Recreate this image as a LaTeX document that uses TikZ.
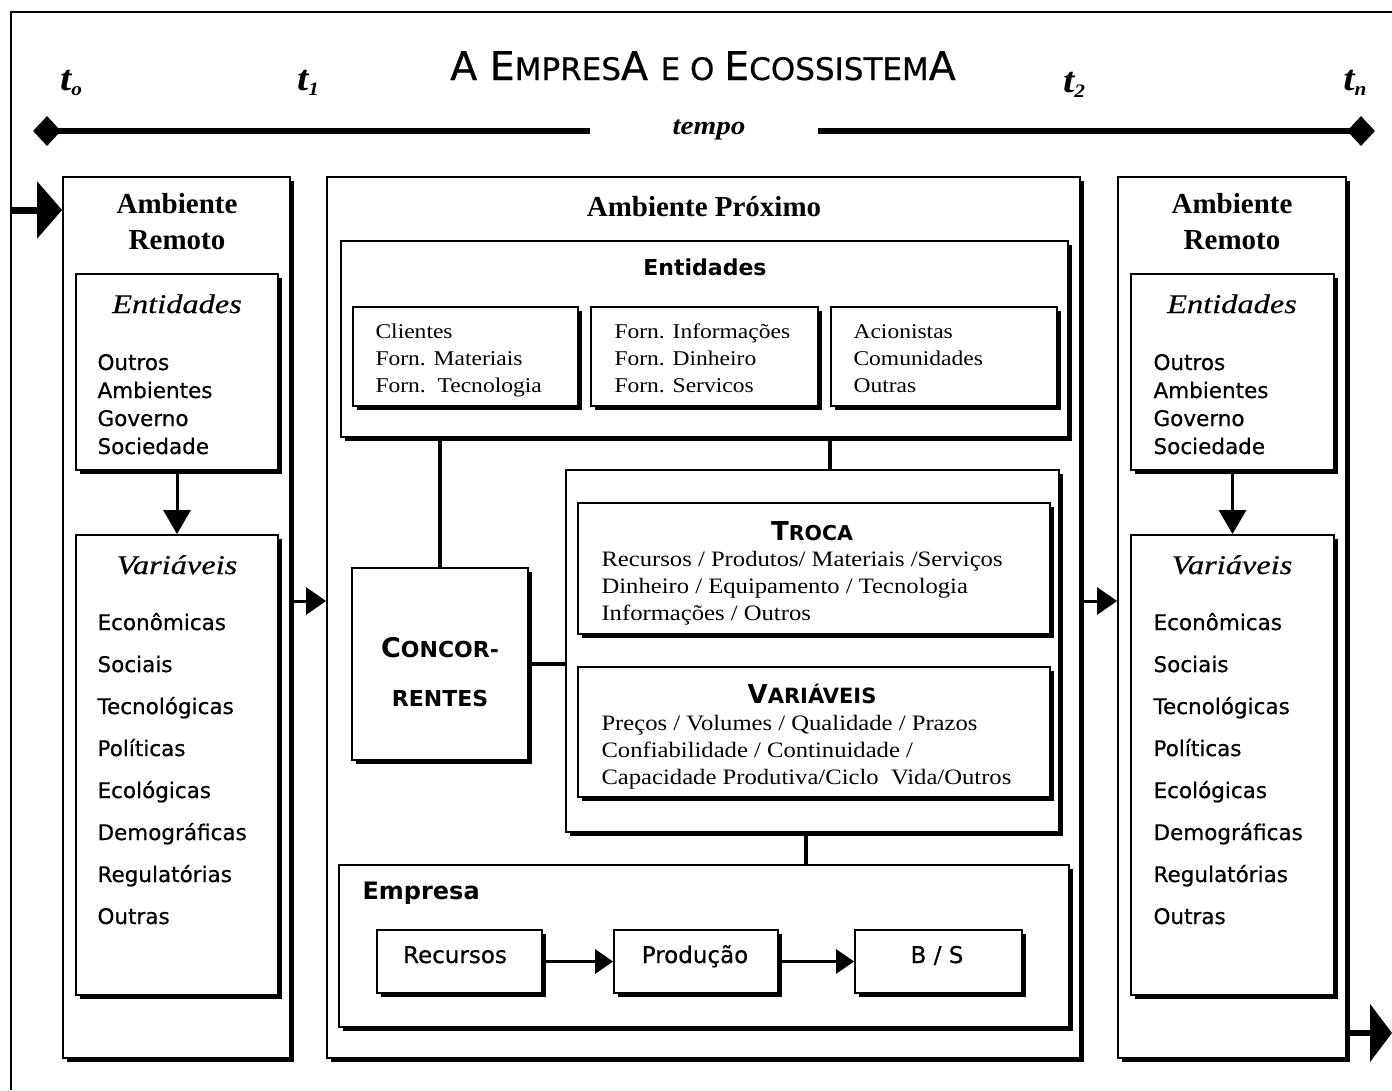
\documentclass[tikz,border=0pt]{standalone}
\usepackage{fontspec}
\setmainfont{Liberation Serif}
\newfontfamily\gsans{DejaVu Sans}
\newfontfamily\gsansr[FakeBold=0.6]{DejaVu Sans}
\newfontfamily\wserif[FakeStretch=1.12]{Liberation Serif}
\newfontfamily\hserif[FakeStretch=1.2,FakeBold=0.5]{Liberation Serif}
\usetikzlibrary{shadows,arrows.meta,fit,shapes.geometric}
\newcommand\fsz[1]{\fontsize{#1}{#1}\selectfont}
\begin{document}
\begin{tikzpicture}[x=1pt,y=-1pt,
  sbox/.style={draw, line width=1.8pt, fill=white, inner sep=0pt,
    drop shadow={shadow xshift=4pt, shadow yshift=-4pt, fill=black, opacity=1}},
  conn/.style={line width=3.2pt},
  sarrow/.style={line width=3pt, -{Triangle[length=20pt,width=27pt]}},
  bigarrow/.style={line width=7pt, -{Triangle[length=25pt,width=56pt]}},
  tlab/.style={anchor=base, font={\wserif\bfseries\itshape\fsz{36}}},
  rtitle/.style={anchor=base, font={\bfseries\fsz{29}}},
  ihead/.style={anchor=base, font={\hserif\itshape\fsz{27}}},
  slist/.style={anchor=base west, font={\gsansr\fsz{21.5}}},
  elist/.style={anchor=base west, font={\wserif\fsz{21}}},
  tlist/.style={anchor=base west, font={\wserif\fsz{22}}},
  dia/.style={diamond, fill=black, inner sep=0pt, minimum width=28pt, minimum height=30pt}
]
\fill[white] (0,0) rectangle (1392,1090);
\useasboundingbox (0,0) rectangle (1392,1090);
% outer frame
\draw[line width=2.5pt] (1392,12) -- (11,12) -- (11,1090);

% title and timeline
\node[anchor=base, font=\gsansr] (title) at (703,80) {\fsz{39.5}A E\fsz{31}MPRES\fsz{39.5}A \fsz{31}E O \fsz{39.5}E\fsz{31}COSSISTEM\fsz{39.5}A};
\node[tlab] (t0) at (71,90) {t\raisebox{-5pt}{\fsz{19}o}};
\node[tlab] (t1) at (308,90) {t\raisebox{-5pt}{\fsz{19}1}};
\node[tlab] (t2) at (1074,92) {t\raisebox{-5pt}{\fsz{19}2}};
\node[tlab] (tn) at (1355,90) {t\raisebox{-5pt}{\fsz{19}n}};
\node[dia] (dL) at (47,131) {};
\node[dia] (dR) at (1361,131) {};
\node[anchor=base, font={\wserif\bfseries\itshape\fsz{26}}] (tempo) at (709,134) {tempo};
\coordinate (tlA) at (590,131);
\coordinate (tlB) at (818,131);
\draw[line width=6.5pt] (dL.center) -- (tlA);
\draw[line width=6.5pt] (tlB) -- (dR.center);

% left column
\node[sbox, fit={(63,177) (290,1058)}] (remL) {};
\node[sbox, fit={(76,274) (278,470)}] (entL) {};
\node[sbox, fit={(76,535) (278,995)}] (varL) {};
% right column
\node[sbox, fit={(1118,177) (1346,1058)}] (remR) {};
\node[sbox, fit={(1131,274) (1334,470)}] (entR) {};
\node[sbox, fit={(1131,535) (1334,995)}] (varR) {};
% center
\node[sbox, fit={(327,177) (1080,1058)}] (prox) {};
\node[sbox, fit={(341,241) (1068,437)}] (entC) {};
\node[sbox, fit={(353,307) (578,406)}] (e1) {};
\node[sbox, fit={(591,307) (818,406)}] (e2) {};
\node[sbox, fit={(831,307) (1057,406)}] (e3) {};
\node[sbox, fit={(352,568) (528,760)}] (conc) {};
\node[sbox, fit={(566,470) (1059,832)}] (grp) {};
\node[sbox, fit={(578,503) (1050,634)}] (troca) {};
\node[sbox, fit={(578,667) (1050,797)}] (varC) {};
\node[sbox, fit={(339,865) (1069,1027)}] (emp) {};
\node[sbox, fit={(377,930) (542,993)}] (rec) {};
\node[sbox, fit={(614,930) (778,993)}] (prod) {};
\node[sbox, fit={(855,930) (1022,993)}] (bs) {};

% left column texts
\node[rtitle] (arL1) at (177,213) {Ambiente};
\node[rtitle] (arL2) at (177,249) {Remoto};
\node[ihead] (enL) at (177,313) {Entidades};
\node[slist] (eL1) at (94,370) {Outros};
\node[slist] (eL2) at (94,398) {Ambientes};
\node[slist] (eL3) at (94,426) {Governo};
\node[slist] (eL4) at (94,454) {Sociedade};
\node[ihead] (vaL) at (177,574) {Variáveis};
\node[slist] (vL1) at (94,630) {Econômicas};
\node[slist] (vL2) at (94,672) {Sociais};
\node[slist] (vL3) at (94,714) {Tecnológicas};
\node[slist] (vL4) at (94,756) {Políticas};
\node[slist] (vL5) at (94,798) {Ecológicas};
\node[slist] (vL6) at (94,840) {Demográficas};
\node[slist] (vL7) at (94,882) {Regulatórias};
\node[slist] (vL8) at (94,924) {Outras};

% right column texts
\node[rtitle] (arR1) at (1232,213) {Ambiente};
\node[rtitle] (arR2) at (1232,249) {Remoto};
\node[ihead] (enR) at (1232,313) {Entidades};
\node[slist] (eR1) at (1150,370) {Outros};
\node[slist] (eR2) at (1150,398) {Ambientes};
\node[slist] (eR3) at (1150,426) {Governo};
\node[slist] (eR4) at (1150,454) {Sociedade};
\node[ihead] (vaR) at (1232,574) {Variáveis};
\node[slist] (vR1) at (1150,630) {Econômicas};
\node[slist] (vR2) at (1150,672) {Sociais};
\node[slist] (vR3) at (1150,714) {Tecnológicas};
\node[slist] (vR4) at (1150,756) {Políticas};
\node[slist] (vR5) at (1150,798) {Ecológicas};
\node[slist] (vR6) at (1150,840) {Demográficas};
\node[slist] (vR7) at (1150,882) {Regulatórias};
\node[slist] (vR8) at (1150,924) {Outras};

% center texts
\node[rtitle] (proxT) at (704,216) {Ambiente Próximo};
\node[anchor=base, font={\gsans\bfseries\fsz{22}}] (entCT) at (705,275) {Entidades};
\node[elist] (a1) at (372,338) {Clientes};
\node[elist] (a2) at (372,365) {Forn. Materiais};
\node[elist] (a3) at (372,392) {Forn.\ \ Tecnologia};
\node[elist] (b1) at (611,338) {Forn. Informações};
\node[elist] (b2) at (611,365) {Forn. Dinheiro};
\node[elist] (b3) at (611,392) {Forn. Servicos};
\node[elist] (c1) at (850,338) {Acionistas};
\node[elist] (c2) at (850,365) {Comunidades};
\node[elist] (c3) at (850,392) {Outras};

\node[anchor=base, font={\gsans\bfseries}] (cc1) at (440,657) {\fsz{27}C\fsz{22}ONCOR-};
\node[anchor=base, font={\gsans\bfseries}] (cc2) at (440,706) {\fsz{22}RENTES};

\node[anchor=base, font={\gsans\bfseries}] (trT) at (812,540) {\fsz{26}T\fsz{20.5}ROCA};
\node[tlist] (tr1) at (598,566) {Recursos / Produtos/ Materiais /Serviços};
\node[tlist] (tr2) at (598,593) {Dinheiro / Equipamento / Tecnologia};
\node[tlist] (tr3) at (598,620) {Informações / Outros};
\node[anchor=base, font={\gsans\bfseries}] (vcT) at (812,703) {\fsz{26}V\fsz{21}ARIÁVEIS};
\node[tlist] (vc1) at (598,730) {Preços / Volumes / Qualidade / Prazos};
\node[tlist] (vc2) at (598,757) {Confiabilidade / Continuidade /};
\node[tlist] (vc3) at (598,784) {Capacidade Produtiva/Ciclo\ \ Vida/Outros};

\node[anchor=base west, font={\gsans\bfseries\fsz{24}}] (empT) at (359,899) {Empresa};
\node[anchor=base, font={\gsansr\fsz{23}}] (recT) at (455,963) {Recursos};
\node[anchor=base, font={\gsansr\fsz{23}}] (prodT) at (695,963) {Produção};
\node[anchor=base, font={\gsansr\fsz{23}}] (bsT) at (937,963) {B / S};

% connectors
\coordinate (inL) at (11,210);
\coordinate (outR) at (1392,1033);
\draw[bigarrow] (inL) -- (remL.west |- inL);
\draw[line width=6pt, -{Triangle[length=22pt,width=57pt]}] (remR.east |- outR) -- (outR);
\draw[sarrow] (remL.east |- 0,601) -- (prox.west |- 0,601);
\draw[sarrow] (prox.east |- 0,601) -- (remR.west |- 0,601);
\draw[line width=3pt, -{Triangle[length=24pt,width=27pt]}] (entL.south) -- (varL.north);
\draw[line width=3pt, -{Triangle[length=24pt,width=27pt]}] (entR.south) -- (varR.north);
\draw[conn] (conc.north |- entC.south) -- (conc.north);
\draw[conn] (830,0 |- entC.south) -- (830,0 |- grp.north);
\draw[conn] (conc.east) -- (grp.west |- conc.east);
\draw[conn] (806,0 |- grp.south) -- (806,0 |- emp.north);
\draw[line width=3pt, -{Triangle[length=18pt,width=24pt]}] (rec.east) -- (prod.west);
\draw[line width=3pt, -{Triangle[length=18pt,width=24pt]}] (prod.east) -- (bs.west);
\end{tikzpicture}
\end{document}
